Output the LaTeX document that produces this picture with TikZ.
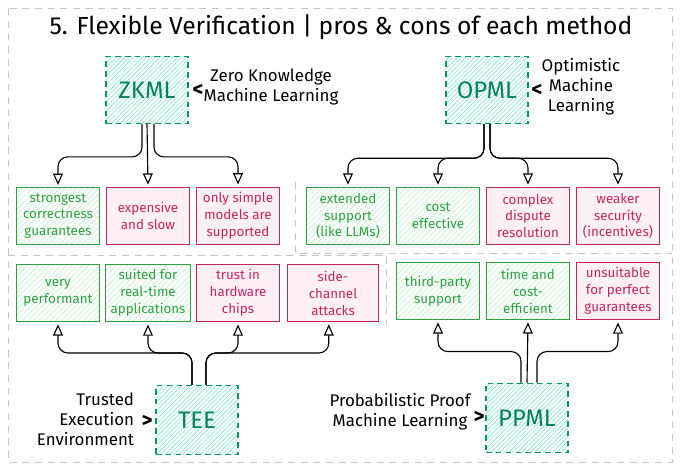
\documentclass[tikz,border=0pt]{standalone}
\usepackage{fontspec}
\setmainfont{Fira Sans}
\usetikzlibrary{arrows.meta, patterns.meta}

\definecolor{tealline}{HTML}{099268}
\definecolor{tealtext}{HTML}{087F5B}
\definecolor{tealhatch}{HTML}{63E6BE}
\definecolor{proline}{HTML}{2F9E44}
\definecolor{prohatch}{HTML}{B2F2BB}
\definecolor{conline}{HTML}{C2255C}
\definecolor{confill}{HTML}{FFF0F6}
\definecolor{framegray}{HTML}{C4C4C4}

\begin{document}
\begin{tikzpicture}[
    x=0.025cm, y=-0.025cm,
    method/.style={rectangle, draw=tealline, dash pattern=on 4pt off 3pt, line width=0.9pt,
                   minimum width=2.05cm, minimum height=1.68cm,
                   pattern={Lines[angle=45, distance=2.2pt, line width=0.35pt]}, pattern color=tealhatch,
                   text=tealtext, font=\fontsize{17}{20}\selectfont},
    pro/.style={rectangle, draw=proline, line width=0.7pt, minimum width=2.05cm, minimum height=1.4cm,
                pattern={Lines[angle=45, distance=2.8pt, line width=0.35pt]}, pattern color=prohatch,
                text=proline, align=center, font=\fontsize{9.5}{12}\selectfont},
    con/.style={rectangle, draw=conline, line width=0.7pt, minimum width=2.05cm, minimum height=1.4cm,
                fill=confill, text=conline, align=center, font=\fontsize{9.5}{12}\selectfont},
    conn/.style={-{Triangle[open, length=8pt, width=7pt, line width=0.8pt]}, line width=0.8pt, rounded corners=7pt},
    note/.style={align=center, font=\fontsize{12}{14.2}\selectfont},
    chev/.style={font=\fontsize{15}{15}\selectfont\bfseries},
    frame/.style={draw=framegray, line width=0.6pt, dash pattern=on 5pt off 4pt}
]
    \useasboundingbox (0,0) rectangle (680,471);

    % Frames
    \draw[frame] (8,8) rectangle (672,462);
    \draw[frame] (8,255) -- (386,255) -- (386,325);
    \draw[frame] (295,182) -- (295,253) -- (672,253);

    % Title
    \node[font=\fontsize{17.5}{20}\selectfont] (title) at (341,27)
        {5. Flexible Verification | pros \& cons of each method};

    % ZKML
    \node[method] (zkml) at (147,90) {ZKML};
    \node[chev] (zkc) at (198,90) {<};
    \node[note] (zkn) at (271,87) {Zero Knowledge\\Machine Learning};

    \node[pro] (zk1) at (58,216) {strongest\\correctness\\guarantees};
    \node[con] (zk2) at (148,216) {expensive\\and slow};
    \node[con] (zk3) at (238,216) {only simple\\models are\\supported};

    % OPML
    \node[method] (opml) at (487,90) {OPML};
    \node[chev] (opc) at (537,90) {<};
    \node[note] (opn) at (581,87) {Optimistic\\Machine\\Learning};

    \node[pro] (op1) at (348,216) {extended\\support\\(like LLMs)};
    \node[pro] (op2) at (438,216) {cost\\effective};
    \node[con] (op3) at (528,216) {complex\\dispute\\resolution};
    \node[con] (op4) at (618,216) {weaker\\security\\(incentives)};

    % TEE
    \node[method, minimum height=1.72cm] (tee) at (197,420) {TEE};
    \node[chev] (tec) at (147,421) {>};
    \node[note, anchor=east, align=right] (ten) at (139,419) {Trusted\\Execution\\Environment};

    \node[pro] (te1) at (58,293) {very\\performant};
    \node[pro] (te2) at (148,293) {suited for\\real-time\\applications};
    \node[con] (te3) at (238,293) {trust in\\hardware\\chips};
    \node[con, minimum width=2.25cm] (te4) at (333,293) {side-\\channel\\attacks};

    % PPML
    \node[method, minimum height=1.74cm] (ppml) at (527,418) {PPML};
    \node[chev] (ppc) at (479,417) {>};
    \node[note] (ppn) at (400,412) {Probabilistic Proof\\Machine Learning};

    \node[pro] (pp1) at (438,291) {third-party\\support};
    \node[pro] (pp2) at (528,291) {time and\\cost-\\efficient};
    \node[con] (pp3) at (618,291) {unsuitable\\for perfect\\guarantees};

    % Connectors top
    \draw[conn] (zkml.south) ++(-5,0) -- ++(0,33) -| ([yshift=2pt]zk1.north);
    \draw[conn] (zkml.south) -- ([yshift=2pt]zk2.north);
    \draw[conn] (zkml.south) ++(7,0) -- ++(0,33) -| ([yshift=2pt]zk3.north);

    \draw[conn] (opml.south) ++(-3,0) -- ++(0,34) -| ([yshift=2pt]op1.north);
    \draw[conn] (opml.south) ++(-3,0) -- ++(0,34) -| ([yshift=2pt]op2.north);
    \draw[conn] (opml.south) ++(3,0) -- ++(0,34) -| ([yshift=2pt]op3.north);
    \draw[conn] (opml.south) ++(3,0) -- ++(0,34) -| ([yshift=2pt]op4.north);

    % Connectors bottom
    \draw[conn] (tee.north) ++(-5,0) -- ++(0,-32) -| ([yshift=-2pt]te1.south);
    \draw[conn] (tee.north) ++(-5,0) -- ++(0,-32) -| ([yshift=-2pt]te2.south);
    \draw[conn] (tee.north) ++(9,0) -- ++(0,-32) -| ([yshift=-2pt]te3.south);
    \draw[conn] (tee.north) ++(9,0) -- ++(0,-32) -| ([xshift=-3pt, yshift=-2pt]te4.south);

    \draw[conn] (ppml.north) ++(-6,0) -- ++(0,-31) -| ([yshift=-2pt]pp1.south);
    \draw[conn] (ppml.north) -- ([yshift=-2pt]pp2.south);
    \draw[conn] (ppml.north) ++(10,0) -- ++(0,-31) -| ([yshift=-2pt]pp3.south);

\end{tikzpicture}
\end{document}
